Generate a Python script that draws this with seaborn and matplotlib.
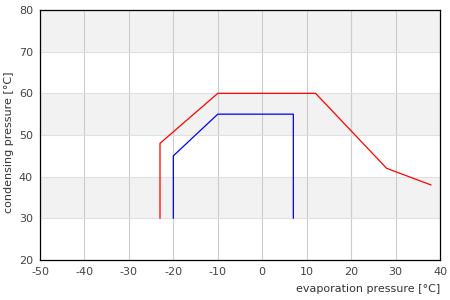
import matplotlib
matplotlib.use("Agg")
import matplotlib.pyplot as plt
import seaborn as sns
import pandas as pd

# Envelope data (evaporation °C, condensing °C)
red_x = [-23, -23, -10, 12, 28, 38]
red_y = [30, 48, 60, 60, 42, 38]
blue_x = [-20, -20, -10, 7, 7]
blue_y = [30, 45, 55, 55, 30]

x_ticks = [-50, -40, -30, -20, -10, 0, 10, 20, 30, 40]
y_ticks = [20, 30, 40, 50, 60, 70, 80]

sns.set_style("white")
plt.rcParams['font.family'] = ['DejaVu Sans']
plt.rcParams['axes.unicode_minus'] = False

fig = plt.figure(figsize=(4.5, 3.0), dpi=100)
ax = fig.add_axes([40/450, 40/300, 400/450, 250/300])

# alternating bands
for lo in [30, 50, 70]:
    ax.axhspan(lo, lo + 10, color="#f2f2f2", zorder=0, lw=0)

for xv in x_ticks[1:-1]:
    ax.axvline(xv, color="#cccccc", lw=0.8, zorder=1)
for yv in y_ticks[1:-1]:
    ax.axhline(yv, color="#e0e0e0", lw=0.8, zorder=1)

df_red = pd.DataFrame({"x": red_x, "y": red_y})
df_blue = pd.DataFrame({"x": blue_x, "y": blue_y})
sns.lineplot(data=df_red, x="x", y="y", sort=False, estimator=None, color="red", lw=0.9, ax=ax, zorder=3)
sns.lineplot(data=df_blue, x="x", y="y", sort=False, estimator=None, color="blue", lw=0.9, ax=ax, zorder=3)

ax.set_xlim(-50, 40)
ax.set_ylim(20, 80)
ax.set_xticks(x_ticks)
ax.set_yticks(y_ticks)
ax.tick_params(axis="both", labelsize=8, colors="#444444", length=0, pad=5)
for s in ax.spines.values():
    s.set_color("black")
    s.set_linewidth(0.9)

ax.set_xlabel("evaporation pressure [°C]", fontsize=8, color="#333333", ha="right")
ax.xaxis.set_label_coords(1.0, -0.095)
ax.set_ylabel("condensing pressure [°C]", fontsize=8, color="#333333")
ax.yaxis.set_label_coords(-0.065, 0.47)

fig.savefig("out.png", dpi=100)
